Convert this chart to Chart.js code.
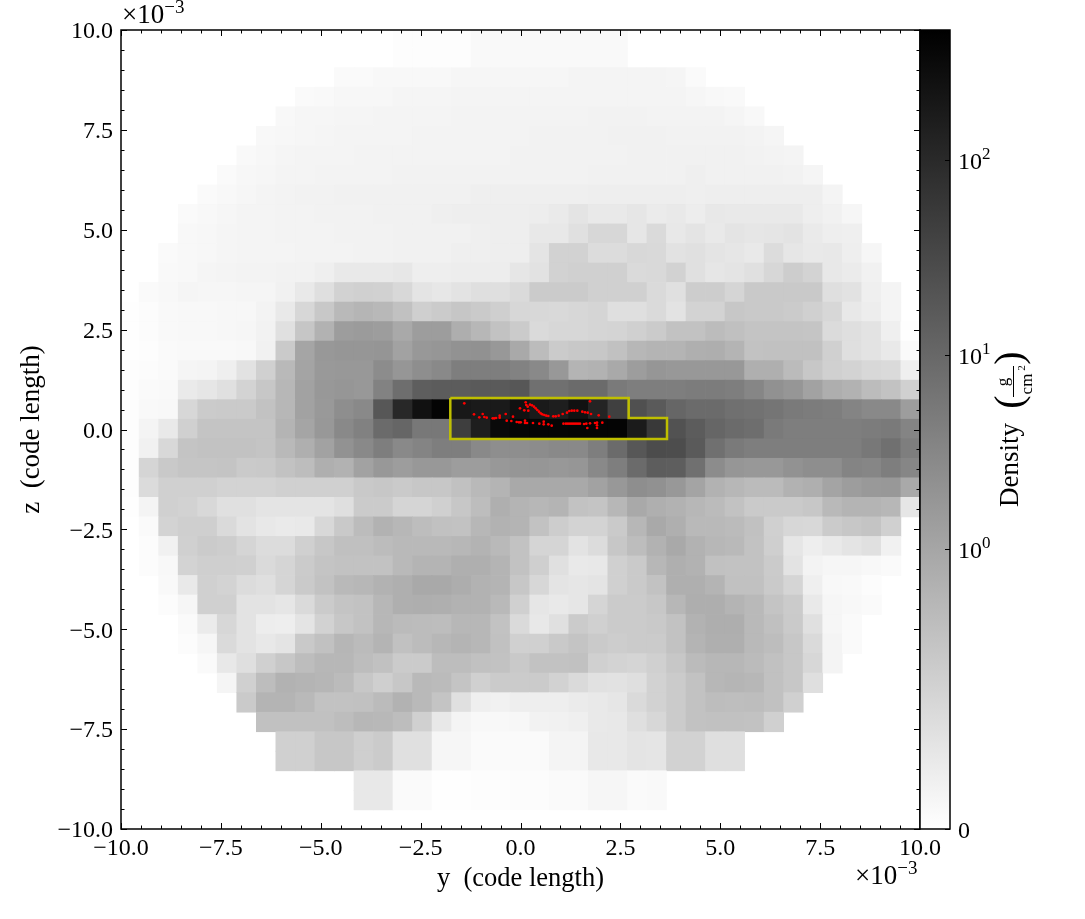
<!DOCTYPE html>
<html>
<head>
<meta charset="utf-8">
<style>
  html, body { margin: 0; background: #fff; }
  canvas { position: absolute; top: 0; }
  #main { left: 0; }
  #cbar { left: 900px; }
</style>
<script src="https://cdn.jsdelivr.net/npm/chart.js@4/dist/chart.umd.min.js"></script>
</head>
<body>
<canvas id="main" width="1085" height="919"></canvas>
<canvas id="cbar" width="185" height="919"></canvas>
<script>
// projected density, one list per row of cells, top row first, 41 columns (0 = no cell)
const density = [
  [0,0,0,0,0,0,0,0,0,0,0,0,0,0,.02,.02,.03,.03,.07,.07,.07,.07,.07,.07,.07,.07,0,0,0,0,0,0,0,0,0,0,0,0,0,0,0],
  [0,0,0,0,0,0,0,0,0,0,0,0,0,0,.02,.02,.03,.03,.07,.07,.07,.07,.07,.07,.07,.07,0,0,0,0,0,0,0,0,0,0,0,0,0,0,0],
  [0,0,0,0,0,0,0,0,0,0,0,.06,.06,.08,.08,.08,.08,.11,.11,.11,.11,.11,.11,.13,.13,.13,.13,.13,.12,.06,0,0,0,0,0,0,0,0,0,0,0],
  [0,0,0,0,0,0,0,0,0,.06,.07,.1,.1,.1,.12,.12,.12,.13,.13,.13,.13,.13,.13,.13,.13,.13,.13,.13,.13,.11,.09,.07,0,0,0,0,0,0,0,0,0],
  [0,0,0,0,0,0,0,0,.08,.11,.11,.12,.12,.13,.13,.13,.13,.15,.15,.15,.15,.15,.15,.15,.16,.16,.16,.15,.15,.15,.15,.12,.09,0,0,0,0,0,0,0,0],
  [0,0,0,0,0,0,0,.08,.1,.11,.12,.13,.13,.13,.13,.15,.15,.15,.15,.15,.15,.16,.16,.16,.16,.17,.17,.17,.16,.16,.16,.16,.15,.12,0,0,0,0,0,0,0],
  [0,0,0,0,0,0,.07,.1,.12,.13,.13,.13,.15,.15,.15,.15,.15,.15,.15,.15,.16,.16,.16,.16,.16,.16,.17,.17,.17,.17,.17,.17,.16,.15,.13,0,0,0,0,0,0],
  [0,0,0,0,0,.06,.1,.11,.13,.13,.15,.15,.15,.15,.16,.16,.16,.16,.16,.16,.16,.16,.16,.16,.17,.17,.17,.17,.17,.19,.17,.17,.17,.17,.16,.12,0,0,0,0,0],
  [0,0,0,0,.06,.09,.11,.13,.15,.16,.16,.17,.17,.17,.17,.17,.17,.17,.19,.19,.19,.19,.19,.19,.2,.2,.21,.2,.2,.19,.21,.21,.21,.21,.21,.2,.13,0,0,0,0],
  [0,0,0,.06,.08,.11,.13,.13,.15,.15,.16,.16,.16,.17,.17,.17,.19,.2,.2,.21,.21,.22,.25,.33,.26,.26,.3,.24,.26,.22,.28,.26,.26,.26,.26,.2,.17,.11,0,0,0],
  [0,0,0,.08,.1,.12,.13,.13,.15,.15,.15,.16,.16,.16,.17,.17,.17,.17,.19,.2,.21,.28,.28,.37,.48,.48,.3,.44,.28,.33,.26,.33,.3,.31,.34,.25,.21,.19,0,0,0],
  [0,0,.06,.08,.1,.12,.13,.13,.13,.15,.15,.15,.16,.16,.17,.17,.17,.19,.19,.2,.21,.33,.54,.54,.42,.42,.47,.46,.35,.37,.33,.3,.26,.42,.3,.27,.28,.21,.11,0,0],
  [0,0,.07,.09,.12,.13,.15,.15,.16,.16,.19,.26,.26,.26,.29,.21,.21,.22,.22,.22,.3,.35,.54,.56,.57,.57,.45,.46,.54,.37,.3,.33,.37,.48,.6,.53,.28,.24,.17,0,0],
  [0,.06,.09,.12,.11,.11,.12,.12,.17,.26,.39,.54,.57,.55,.47,.33,.29,.34,.39,.39,.44,.62,.62,.62,.56,.56,.56,.44,.37,.6,.6,.51,.65,.65,.65,.65,.39,.35,.19,.13,0],
  [.01,.04,.07,.09,.09,.1,.1,.15,.26,.48,.66,.84,.89,.85,.75,.58,.62,.69,.64,.58,.48,.47,.46,.48,.51,.39,.39,.45,.34,.53,.53,.67,.65,.65,.62,.56,.48,.28,.22,.13,0],
  [.01,.04,.07,.09,.09,.1,.11,.16,.37,.69,.93,1.5,1.6,1.5,1.04,1.5,1.5,.98,.87,.73,.62,.45,.48,.48,.51,.52,.56,.63,.73,.73,.81,.76,.71,.71,.71,.7,.43,.39,.34,.19,.01],
  [.01,.03,.06,.07,.07,.07,.08,.17,.64,1.12,1.8,1.95,1.95,2,1.25,1.8,1.95,2.2,2.3,1.8,1.04,.81,.62,.66,.67,.75,.87,.9,.9,.96,.98,.9,.73,.75,.75,.75,.56,.39,.34,.26,.06],
  [.03,.04,.06,.12,.13,.19,.35,.56,.84,1.16,1.7,1.8,1.8,2.8,1.95,2.6,3.1,4.6,4.6,4.6,4.1,3.1,1.8,.9,.93,1.04,1.5,1.95,1.8,1.8,1.8,1.8,.96,.96,.82,.67,.56,.53,.47,.45,.19],
  [.03,.06,.07,.25,.3,.37,.53,.67,.87,1.25,1.8,1.95,1.8,4.1,8.6,15.5,16.6,16.6,18,18,20,8,8,9.6,9.6,5.5,4.6,4.6,4.6,5,5,4.6,3.5,2.3,1.95,1.25,.98,.93,.81,.73,.56],
  [.03,.07,.09,.48,.62,.64,.64,.73,.87,1.25,1.7,2.6,3.1,20,114,267,440,206,192,192,267,192,166,267,130,47,26,18,11.5,9.6,9.6,8,7.4,6.6,5.5,5,4.6,3.8,3.1,3.1,1.5],
  [.03,.13,.26,.56,.71,.71,.71,.71,.9,1.12,1.8,3.1,4.2,9.6,11.5,5.9,5.9,50,166,345,400,420,420,440,440,440,185,60,24,16.6,11.5,9.6,8.6,5.5,4.6,4.6,4.6,4.6,5,5.5,3.8],
  [.03,.17,.47,.71,.73,.73,.73,.71,.84,.96,1.25,2.2,3.1,4.6,3.1,3.8,4.6,4.6,3.1,2.6,2.6,2.8,3.1,3.1,4.6,9.6,20,30,29,18,8,5.5,4.6,4.6,4.6,4.6,4.6,4.6,5.9,8,4.6],
  [.02,.51,.65,.7,.7,.71,.64,.65,.73,.79,.96,.93,1.25,1.8,1.5,1.8,1.8,1.5,1.5,1.8,1.95,1.95,1.8,1.95,3.1,4.6,9.6,16,15.5,8,2.8,1.95,1.8,1.8,2.2,2.6,2.6,3.8,3.5,4.6,3.5],
  [.02,.43,.56,.56,.56,.53,.53,.53,.56,.56,.56,.56,.65,.67,.64,.67,.67,.75,.84,.9,1.04,1.04,1.04,1.04,1.25,1.8,2.6,2.3,1.8,1.16,.93,.87,.82,.82,.93,.96,1.16,1.5,1.7,1.8,1.04],
  [.01,.13,.56,.54,.47,.37,.37,.33,.33,.33,.33,.39,.62,.62,.51,.51,.56,.67,.79,.96,.9,.87,.9,.73,.71,.87,1.04,.96,.93,.87,.82,.73,.64,.64,.64,.67,.84,.9,.9,.87,.3],
  [0,.06,.53,.58,.58,.45,.34,.28,.25,.26,.47,.65,.81,.93,.87,.79,.75,.73,.87,.93,.9,.73,.6,.53,.53,.64,.87,1.04,.96,.84,.84,.82,.75,.56,.48,.47,.62,.67,.71,.56,0],
  [0,.04,.17,.56,.62,.6,.51,.42,.42,.56,.67,.76,.76,.81,.84,.84,.84,.87,.92,.84,.73,.51,.51,.34,.42,.67,.79,.93,1.04,.93,.87,.84,.73,.58,.3,.2,.26,.33,.37,.17,0],
  [0,.04,.08,.53,.58,.58,.56,.45,.51,.62,.71,.73,.73,.73,.84,.9,.9,.96,.96,.9,.73,.58,.37,.26,.28,.56,.64,.87,.96,.93,.75,.73,.73,.62,.34,.15,.11,.11,.09,.06,0],
  [0,0,.07,.26,.56,.53,.42,.39,.51,.64,.73,.84,.87,.93,.96,1.04,1.04,.99,.93,.9,.67,.48,.33,.3,.33,.56,.64,.73,.96,.96,.9,.75,.75,.64,.51,.19,.09,.07,.04,0,0],
  [0,0,.04,.11,.56,.56,.34,.34,.3,.45,.62,.71,.73,.87,.96,.98,.96,.93,.93,.84,.56,.3,.26,.3,.51,.62,.62,.67,.87,.98,.98,.9,.84,.71,.62,.26,.11,.08,.06,0,0],
  [0,0,0,.06,.24,.48,.34,.22,.21,.33,.54,.67,.73,.87,.82,.81,.79,.87,.87,.73,.45,.28,.37,.62,.56,.62,.62,.65,.73,.93,.98,.98,.84,.76,.64,.37,.11,.06,0,0,0],
  [0,0,0,.04,.11,.45,.34,.28,.33,.65,.75,.88,.82,.9,.75,.81,.87,.9,.87,.75,.56,.56,.65,.71,.64,.6,.62,.63,.73,.9,.96,.96,.84,.79,.67,.45,.13,.06,0,0,0],
  [0,0,0,0,.06,.28,.39,.56,.67,.79,.87,.87,.8,.75,.62,.62,.79,.79,.75,.73,.65,.73,.73,.75,.56,.53,.51,.56,.67,.82,.87,.87,.82,.75,.67,.48,.13,0,0,0,0],
  [0,0,0,0,0,.12,.56,.79,.93,.9,.88,.82,.67,.58,.67,.84,.82,.71,.56,.62,.62,.62,.54,.45,.36,.35,.39,.54,.62,.73,.87,.89,.87,.75,.67,.39,0,0,0,0,0],
  [0,0,0,0,0,0,.64,.9,.9,.84,.73,.73,.75,.82,.93,.84,.71,.37,.19,.17,.2,.21,.21,.24,.26,.3,.45,.54,.62,.73,.8,.78,.8,.75,.56,0,0,0,0,0,0],
  [0,0,0,0,0,0,0,.75,.75,.75,.75,.79,.87,.86,.79,.56,.28,.13,.09,.09,.1,.16,.17,.19,.26,.28,.39,.48,.62,.73,.75,.75,.73,.56,0,0,0,0,0,0,0],
  [0,0,0,0,0,0,0,0,.56,.56,.67,.67,.58,.62,.37,.37,.11,.11,.06,.06,.06,.06,.13,.13,.28,.28,.33,.31,.54,.54,.39,.39,0,0,0,0,0,0,0,0,0],
  [0,0,0,0,0,0,0,0,.56,.56,.67,.67,.58,.62,.37,.37,.11,.11,.06,.06,.06,.06,.13,.13,.28,.28,.33,.31,.54,.54,.39,.39,0,0,0,0,0,0,0,0,0],
  [0,0,0,0,0,0,0,0,0,0,0,0,.28,.28,.06,.06,.01,.01,.02,.02,.04,.04,.06,.06,.11,.11,.06,.07,0,0,0,0,0,0,0,0,0,0,0,0,0],
  [0,0,0,0,0,0,0,0,0,0,0,0,.28,.28,.06,.06,.01,.01,.02,.02,.04,.04,.06,.06,.11,.11,.06,.07,0,0,0,0,0,0,0,0,0,0,0,0,0]
];

// red particles, y and z in units of 1e-3
const particleY = [-1.407,-1.164,-.946,-1.031,-.906,-.846,-.696,-.656,-.613,-.521,-.521,-.37,-.188,-.345,-.23,-.095,-.038,.005,.113,.113,.163,.313,.471,.581,.581,.696,.781,-.013,.095,.195,.13,.145,.18,.238,.288,.338,.38,.42,.463,.506,.546,.596,.646,.696,.821,.881,.956,1.056,1.164,1.222,1.282,1.347,1.422,1.547,1.615,1.682,1.765,1.957,2.223,1.74,1.076,1.139,1.189,1.239,1.289,1.339,1.389,1.439,1.489,1.59,1.647,1.74,1.865,1.915,2.048,1.672,1.915,1.915];
const particleZ = [.656,.38,.388,.305,.313,.295,.28,.28,.288,.345,.295,.388,.32,.22,.213,.188,.18,.18,.22,.163,.163,.163,.145,.195,.13,.13,.095,.531,.481,.471,.681,.613,.571,.621,.606,.571,.531,.488,.446,.405,.38,.363,.345,.338,.33,.33,.345,.388,.42,.463,.471,.471,.471,.446,.43,.42,.388,.355,.32,.706,.145,.145,.145,.145,.145,.145,.145,.145,.145,.138,.145,.155,.163,.17,.17,.038,.105,.038];

// yellow outline
const boxY = [-1.757,2.708,2.708,3.667,3.667,-1.757,-1.757];
const boxZ = [.788,.788,.288,.288,-.238,-.238,.788];

// colorbar
const cbarTicks = [0,1,10,100];
const cbarMax = 466;

const cellOrigin = -10.035;
const cellStep = 0.4889;
const linFrac = 280 / 799;
const decFrac = 194.5 / 799;
const readCorrection = 0.93; // values were read a little dark off the crops
const FONT = '"Liberation Serif", serif';

function norm(v) {
  return v <= 1 ? v * linFrac : linFrac + decFrac * Math.log10(v);
}
function greyOf(v) {
  const g = Math.round(255 * (1 - Math.min(norm(v), 1)));
  return "rgb(" + g + "," + g + "," + g + ")";
}

const cells = [];
density.forEach((row, r) => {
  row.forEach((v, c) => {
    if (v > 0) cells.push({ x: cellOrigin + (c + 0.5) * cellStep, y: -cellOrigin - (r + 0.5) * cellStep, v: v * readCorrection });
  });
});

function powerLabel(ctx, x, y, base, exp, size) {
  ctx.textAlign = "left";
  ctx.textBaseline = "alphabetic";
  ctx.font = size + "px " + FONT;
  ctx.fillText(base, x, y);
  const w = ctx.measureText(base).width;
  ctx.font = Math.round(size * 0.7) + "px " + FONT;
  ctx.fillText(exp, x + w, y - size * 0.38);
}

const tickLabel = v => v % 2.5 === 0 ? v.toFixed(1).replace("-", "\u2212") : "";

const frame = {
  id: "frame",
  afterDraw(chart) {
    const { ctx, chartArea: a, scales } = chart;
    ctx.save();
    ctx.strokeStyle = "#000";
    ctx.fillStyle = "#000";
    ctx.lineWidth = 1;
    ctx.beginPath();
    scales.x.ticks.forEach(t => {
      const px = Math.round(scales.x.getPixelForValue(t.value)) + 0.5;
      const len = t.value % 2.5 === 0 ? 6 : 3.5;
      ctx.moveTo(px, a.bottom); ctx.lineTo(px, a.bottom - len);
      ctx.moveTo(px, a.top); ctx.lineTo(px, a.top + len);
    });
    scales.y.ticks.forEach(t => {
      const py = Math.round(scales.y.getPixelForValue(t.value)) + 0.5;
      const len = t.value % 2.5 === 0 ? 6 : 3.5;
      ctx.moveTo(a.left, py); ctx.lineTo(a.left + len, py);
      ctx.moveTo(a.right, py); ctx.lineTo(a.right - len, py);
    });
    ctx.stroke();
    ctx.lineWidth = 1.5;
    ctx.strokeRect(a.left, a.top, a.right - a.left, a.bottom - a.top);
    powerLabel(ctx, 122, 23, "\u00d710", "\u22123", 27);
    powerLabel(ctx, 855, 884, "\u00d710", "\u22123", 27);
    ctx.restore();
  }
};

new Chart(document.getElementById("main"), {
  type: "scatter",
  data: {
    datasets: [
      {
        data: particleY.map((y, i) => ({ x: y, y: particleZ[i] })),
        pointRadius: 1.35,
        pointBackgroundColor: "#ff0000",
        pointBorderWidth: 0,
        order: 1
      },
      {
        data: boxY.map((y, i) => ({ x: y, y: boxZ[i] })),
        showLine: true,
        pointRadius: 0,
        borderColor: "#bfbf00",
        borderWidth: 2.5,
        order: 2
      },
      {
        data: cells,
        pointStyle: "rect",
        pointBorderWidth: 0,
        pointRadius: ctx => {
          const s = ctx.chart.scales.x;
          const half = (s.getPixelForValue(cellStep) - s.getPixelForValue(0)) / 2;
          return (half + 0.35) * Math.SQRT2;
        },
        pointBackgroundColor: ctx => greyOf(ctx.raw ? ctx.raw.v : 0),
        order: 3
      }
    ]
  },
  options: {
    responsive: false,
    animation: false,
    events: [],
    layout: { padding: { top: 30, right: 165, left: 0, bottom: 0 } },
    plugins: { legend: { display: false }, tooltip: { enabled: false } },
    scales: {
      x: {
        type: "linear",
        min: -10,
        max: 10,
        afterFit: s => { s.height = 90; },
        grid: { display: false, drawTicks: false },
        border: { display: false },
        ticks: {
          stepSize: 0.5,
          autoSkip: false,
          maxRotation: 0,
          padding: 5,
          color: "#000",
          font: { family: FONT, size: 24 },
          callback: tickLabel
        },
        title: {
          display: true,
          text: "y  (code length)",
          color: "#000",
          font: { family: FONT, size: 26.5 },
          padding: { top: 2, bottom: 24 }
        }
      },
      y: {
        type: "linear",
        min: -10,
        max: 10,
        afterFit: s => { s.width = 121; },
        grid: { display: false, drawTicks: false },
        border: { display: false },
        ticks: {
          stepSize: 0.5,
          autoSkip: false,
          padding: 8,
          labelOffset: 2,
          color: "#000",
          font: { family: FONT, size: 24 },
          callback: tickLabel
        },
        title: {
          display: true,
          text: "z  (code length)",
          color: "#000",
          font: { family: FONT, size: 27 },
          padding: { top: 16, bottom: 0 }
        }
      }
    }
  },
  plugins: [frame]
});

const cbarFrame = {
  id: "cbarFrame",
  afterDraw(chart) {
    const { ctx, chartArea: a, scales } = chart;
    ctx.save();
    ctx.strokeStyle = "#000";
    ctx.fillStyle = "#000";
    ctx.lineWidth = 1.5;
    ctx.strokeRect(a.left, a.top, a.right - a.left, a.bottom - a.top);
    ctx.lineWidth = 1;
    cbarTicks.forEach((v, i) => {
      const py = Math.round(scales.y.getPixelForValue(norm(v))) + 0.5;
      ctx.beginPath();
      ctx.moveTo(a.right, py); ctx.lineTo(a.right - 5, py);
      ctx.stroke();
      if (v === 0) {
        ctx.font = "24px " + FONT;
        ctx.textAlign = "left";
        ctx.textBaseline = "alphabetic";
        ctx.fillText("0", a.right + 8, py + 8);
      } else {
        powerLabel(ctx, a.right + 8, py + 8, "10", String(i - 1), 24);
      }
    });
    // rotated colorbar label, with the unit written as a fraction
    ctx.translate(118, 507);
    ctx.rotate(-Math.PI / 2);
    ctx.textAlign = "left";
    ctx.font = "27px " + FONT;
    ctx.fillText("Density", 0, 0);
    ctx.font = "40px " + FONT;
    ctx.textAlign = "center";
    ctx.fillText("(", 105, 4);
    ctx.fillText(")", 149, 4);
    ctx.font = "17px " + FONT;
    ctx.fillText("g", 125, -10);
    ctx.font = "17px " + FONT;
    ctx.fillText("cm", 123, 14);
    ctx.font = "11px " + FONT;
    ctx.fillText("2", 139, 7);
    ctx.fillRect(110, -5, 31, 1);
    ctx.restore();
  }
};

new Chart(document.getElementById("cbar"), {
  type: "bar",
  data: {
    labels: ["Density"],
    datasets: [{
      data: [[0, 1]],
      barPercentage: 1,
      categoryPercentage: 1,
      borderWidth: 0,
      backgroundColor: ctx => {
        const a = ctx.chart.chartArea;
        if (!a) return "#888";
        const g = ctx.chart.ctx.createLinearGradient(0, a.bottom, 0, a.top);
        g.addColorStop(0, "#ffffff");
        g.addColorStop(1, "#000000");
        return g;
      }
    }]
  },
  options: {
    responsive: false,
    animation: false,
    events: [],
    layout: { padding: { top: 30, bottom: 90, left: 20, right: 135 } },
    plugins: { legend: { display: false }, tooltip: { enabled: false } },
    scales: {
      x: { display: false },
      y: { display: false, min: 0, max: 1 }
    }
  },
  plugins: [cbarFrame]
});
</script>
</body>
</html>
